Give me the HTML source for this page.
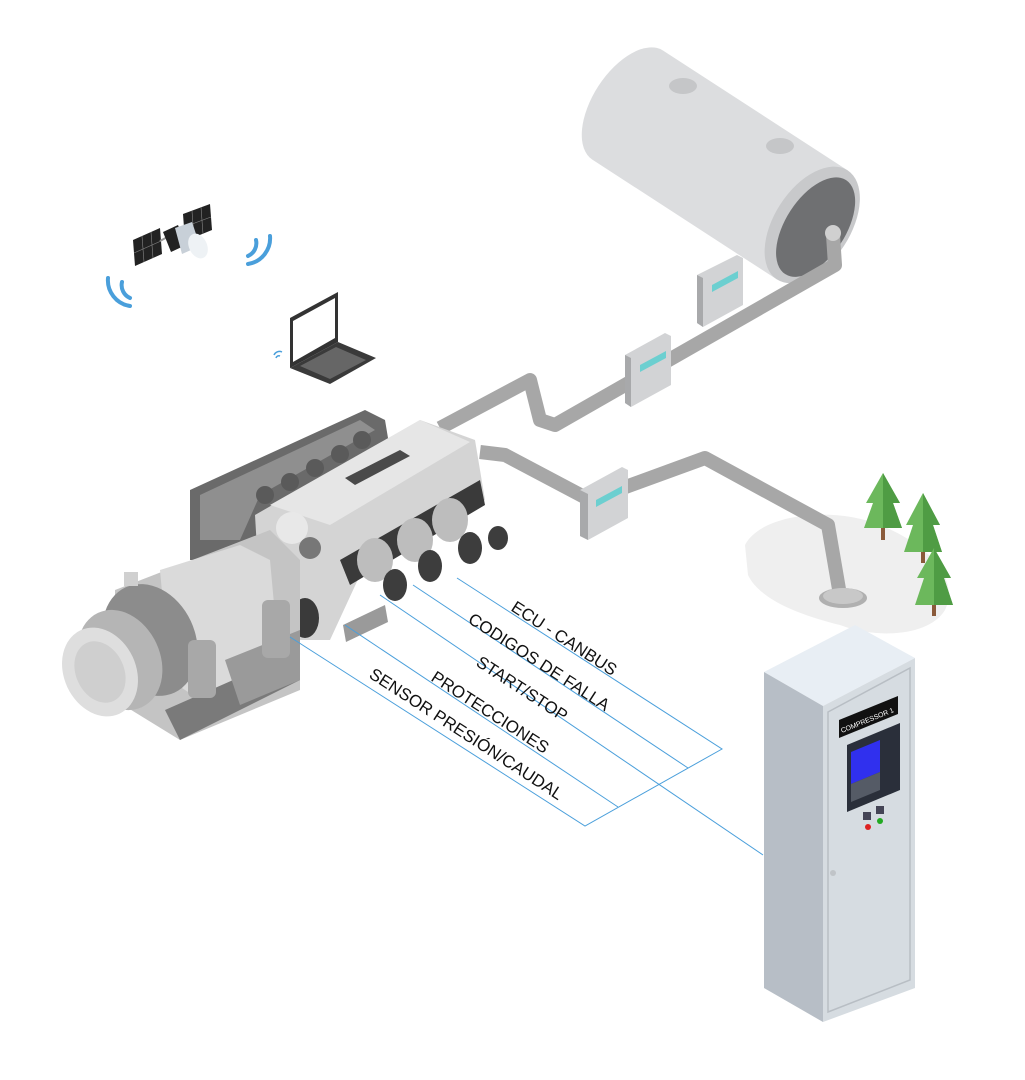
<!DOCTYPE html>
<html><head><meta charset="utf-8"><style>
html,body{margin:0;padding:0;background:#fff;}
svg{display:block}
text{font-family:"Liberation Sans",sans-serif;}
</style></head><body>
<svg width="1025" height="1080" viewBox="0 0 1025 1080" xmlns="http://www.w3.org/2000/svg">
<path d="M745,545 C760,515 830,505 880,525 C930,545 960,580 945,610 C930,635 880,640 840,625 C800,615 760,600 748,575 Z" fill="#efefef"/>
<g>
<rect x="881" y="520" width="4" height="20" fill="#8a5a3a"/>
<polygon points="883,473 866,503 873,503 864,528 902,528 893,503 900,503" fill="#6cb85c"/>
<polygon points="883,473 883,528 902,528 893,503 900,503" fill="#4f9c44"/>
<rect x="921" y="545" width="4" height="18" fill="#8a5a3a"/>
<polygon points="923,493 906,525 913,525 904,552 942,552 933,525 940,525" fill="#6cb85c"/>
<polygon points="923,493 923,552 942,552 933,525 940,525" fill="#4f9c44"/>
<rect x="932" y="598" width="4" height="18" fill="#8a5a3a"/>
<polygon points="934,548 917,578 924,578 915,605 953,605 944,578 951,578" fill="#6cb85c"/>
<polygon points="934,548 934,605 953,605 944,578 951,578" fill="#4f9c44"/>
</g>
<g transform="rotate(33 720 165)">
<path d="M610,100 L830,100 L830,230 L610,230 A35,65 0 0 1 610,100 Z" fill="#dcdddf"/>
<ellipse cx="830" cy="165" rx="38" ry="65" fill="#c8c9cb"/>
<ellipse cx="834" cy="165" rx="30" ry="56" fill="#6f7072"/>
</g>
<ellipse cx="683" cy="86" rx="14" ry="8" fill="#c5c6c8"/>
<ellipse cx="780" cy="146" rx="14" ry="8" fill="#c5c6c8"/>
<path d="M833,235 L835,265 L555,425 L540,420 L530,380 L440,428" fill="none" stroke="#a7a7a7" stroke-width="14" stroke-linejoin="round"/>
<circle cx="833" cy="233" r="8" fill="#d0d0d0"/>
<path d="M480,452 L505,455 L590,500 L705,458 L828,525 L840,595" fill="none" stroke="#a7a7a7" stroke-width="14" stroke-linejoin="round"/>
<ellipse cx="843" cy="598" rx="24" ry="10" fill="#b0b0b0"/>
<ellipse cx="843" cy="596" rx="20" ry="8" fill="#c8c8c8"/>
<g>
<polygon points="697,275 737,255 743,258 743,305 703,327 697,323" fill="#d2d3d5"/>
<polygon points="697,275 703,278 703,327 697,323" fill="#a8a9ab"/>
<polygon points="712,285 738,271 738,278 712,292" fill="#6ccfd0"/>
<polygon points="625,355 665,333 671,336 671,385 631,407 625,403" fill="#d2d3d5"/>
<polygon points="625,355 631,358 631,407 625,403" fill="#a8a9ab"/>
<polygon points="640,365 666,351 666,358 640,372" fill="#6ccfd0"/>
<polygon points="580,490 622,467 628,470 628,518 588,540 580,536" fill="#d2d3d5"/>
<polygon points="580,490 588,494 588,540 580,536" fill="#a8a9ab"/>
<polygon points="596,500 622,486 622,493 596,507" fill="#6ccfd0"/>
</g>
<g>
<polygon points="133,240 160,228 162,254 135,266" fill="#222"/>
<polygon points="183,214 210,204 212,230 185,241" fill="#222"/>
<g stroke="#888" stroke-width="0.6"><line x1="142" y1="236" x2="144" y2="262"/><line x1="151" y1="232" x2="153" y2="258"/><line x1="134" y1="253" x2="161" y2="241"/><line x1="192" y1="211" x2="194" y2="238"/><line x1="201" y1="207" x2="203" y2="234"/><line x1="184" y1="227" x2="211" y2="217"/></g>
<line x1="160" y1="241" x2="184" y2="228" stroke="#999" stroke-width="2"/>
<polygon points="163,232 178,225 186,245 171,252" fill="#222"/>
<polygon points="175,228 192,222 200,246 182,254" fill="#c8d0d8"/>
<ellipse cx="198" cy="246" rx="9" ry="13" fill="#eef2f5" transform="rotate(-25 198 246)"/>
</g>
<g fill="none" stroke="#4a9fdb" stroke-width="4" stroke-linecap="round">
<path d="M122,282 A14,14 0 0 0 130,298"/>
<path d="M108,278 A26,26 0 0 0 130,306"/>
<path d="M256,240 A14,14 0 0 1 248,256"/>
<path d="M270,236 A26,26 0 0 1 248,264"/>
</g>
<polygon points="290,318 338,292 338,342 290,368" fill="#333"/>
<polygon points="293,321 335,298 335,338 293,362" fill="#fff"/>
<polygon points="290,368 338,342 376,358 330,384" fill="#3a3a3a"/>
<polygon points="300,366 336,347 366,360 330,379" fill="#666"/>
<path d="M274,355 A6,6 0 0 1 282,352 M276,358 A3,3 0 0 1 280,356" stroke="#4a9fdb" stroke-width="1.5" fill="none"/>
<g>
<polygon points="190,490 365,410 385,420 390,450 265,520 265,560 190,560" fill="#6a6a6a"/>
<polygon points="200,495 360,420 375,430 260,495 240,540 200,540" fill="#8f8f8f"/>
<g fill="#5a5a5a"><circle cx="265" cy="495" r="9"/><circle cx="290" cy="482" r="9"/><circle cx="315" cy="468" r="9"/><circle cx="340" cy="454" r="9"/><circle cx="362" cy="440" r="9"/></g>
<polygon points="255,515 420,420 475,440 485,500 360,575 330,640 290,640 260,600" fill="#d4d4d4"/>
<polygon points="270,505 420,420 470,442 330,525" fill="#e6e6e6"/>
<polygon points="345,478 400,450 410,456 355,485" fill="#4a4a4a"/>
<polygon points="340,560 480,480 485,505 350,585" fill="#3a3a3a"/>
<g fill="#bdbdbd"><ellipse cx="375" cy="560" rx="18" ry="22"/><ellipse cx="415" cy="540" rx="18" ry="22"/><ellipse cx="450" cy="520" rx="18" ry="22"/></g>
<g fill="#3d3d3d"><ellipse cx="395" cy="585" rx="12" ry="16"/><ellipse cx="430" cy="566" rx="12" ry="16"/><ellipse cx="470" cy="548" rx="12" ry="16"/><ellipse cx="498" cy="538" rx="10" ry="12"/></g>
<circle cx="292" cy="528" r="16" fill="#e8e8e8"/>
<circle cx="310" cy="548" r="11" fill="#777"/>
<polygon points="343,625 385,605 388,622 346,642" fill="#9a9a9a"/>
<ellipse cx="305" cy="618" rx="14" ry="20" fill="#3a3a3a"/>
<polygon points="115,590 270,530 300,560 300,690 180,740 115,700" fill="#c4c4c4"/>
<polygon points="160,570 240,545 270,560 280,670 200,700 170,680" fill="#dadada"/>
<polygon points="165,710 290,655 300,680 180,740" fill="#7a7a7a"/>
<polygon points="225,660 300,630 300,680 240,705" fill="#9a9a9a"/>
<ellipse cx="150" cy="640" rx="45" ry="58" fill="#8c8c8c" transform="rotate(-25 150 640)"/>
<ellipse cx="120" cy="660" rx="40" ry="52" fill="#b5b5b5" transform="rotate(-25 120 660)"/>
<ellipse cx="100" cy="672" rx="36" ry="46" fill="#dedede" transform="rotate(-25 100 672)"/>
<ellipse cx="100" cy="672" rx="24" ry="32" fill="#cfcfcf" transform="rotate(-25 100 672)"/>
<rect x="188" y="640" width="28" height="58" rx="6" fill="#a8a8a8"/>
<rect x="262" y="600" width="28" height="58" rx="6" fill="#a8a8a8"/>
<rect x="124" y="572" width="14" height="14" fill="#d0d0d0"/>
</g>
<g fill="none" stroke="#4a9fdb" stroke-width="1">
<polyline points="457,578 722,749 585,826 290,637"/>
<line x1="413" y1="585" x2="688" y2="768"/>
<line x1="380" y1="595" x2="763" y2="855"/>
<line x1="345" y1="625" x2="618" y2="807"/>
</g>
<g font-size="17" fill="#111">
<text transform="translate(510,610) rotate(33)">ECU - CANBUS</text>
<text transform="translate(467,622) rotate(33)">CODIGOS DE FALLA</text>
<text transform="translate(475,665) rotate(33)">START/STOP</text>
<text transform="translate(430,680) rotate(33)">PROTECCIONES</text>
<text transform="translate(368,677) rotate(33)">SENSOR PRESIÓN/CAUDAL</text>
</g>
<polygon points="764,672 855,625 915,658 823,706" fill="#e8eef4"/>
<polygon points="764,672 823,706 823,1022 764,988" fill="#b7bec6"/>
<polygon points="823,706 915,658 915,988 823,1022" fill="#d6dce1"/>
<polygon points="828,712 910,668 910,980 828,1012" fill="none" stroke="#b8bec4" stroke-width="1.5"/>
<polygon points="839,720 898,696 898,714 839,738" fill="#111"/>
<text transform="translate(842,733) rotate(-22)" font-size="7" fill="#fff">COMPRESSOR 1</text>
<polygon points="847,745 900,723 900,790 847,812" fill="#2a2f3a"/>
<polygon points="851,752 880,740 880,772 851,784" fill="#3030ee"/>
<polygon points="851,784 880,772 880,790 851,802" fill="#555b66"/>
<rect x="863" y="812" width="8" height="8" fill="#445"/>
<rect x="876" y="806" width="8" height="8" fill="#445"/>
<circle cx="868" cy="827" r="3" fill="#d22"/>
<circle cx="880" cy="821" r="3" fill="#2a2"/>
<circle cx="833" cy="873" r="3" fill="#c0c4c8"/>
</svg>
</body></html>
